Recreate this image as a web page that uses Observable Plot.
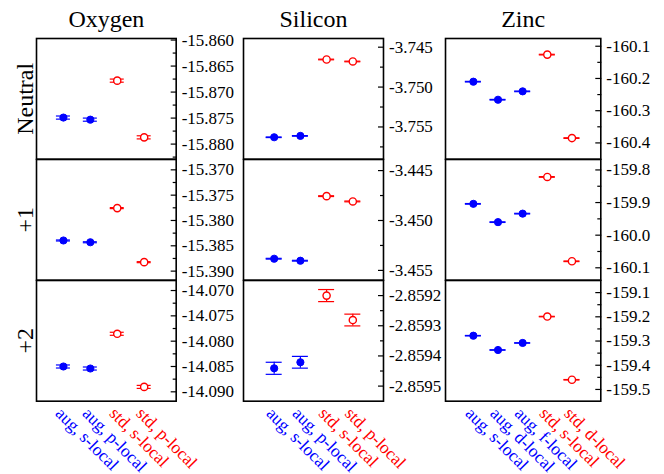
<!DOCTYPE html>
<html><head><meta charset="utf-8">
<script src="https://cdn.jsdelivr.net/npm/d3@7"></script>
<script src="https://cdn.jsdelivr.net/npm/@observablehq/plot@0.6"></script>
<style>
html,body{margin:0;padding:0;background:#fff;}
#chart{position:relative;width:664px;height:474px;overflow:hidden;background:#fff;}
#chart svg{position:absolute;}
</style></head>
<body><div id="chart"></div>
<script>
// ---------- data ----------
const elements = ["Oxygen", "Silicon", "Zinc"];
const charges = ["Neutral", "+1", "+2"];

const basisO  = ["aug, s-local", "aug, p-local", "std, s-local", "std, p-local"];
const basisSi = ["aug, s-local", "aug, p-local", "std, s-local", "std, p-local"];
const basisZn = ["aug, s-local", "aug, d-local", "aug, f-local", "std, s-local", "std, d-local"];

const oNeutral    = [-15.8749, -15.8753, -15.8678, -15.8787];
const oNeutralErr = [0.0003, 0.0003, 0.0003, 0.0003];
const oPlus1      = [-15.38395, -15.3843, -15.37756, -15.38823];
const oPlus1Err   = [0.0001, 0.0001, 0.0001, 0.0001];
const oPlus2      = [-14.0850, -14.0854, -14.07854, -14.08903];
const oPlus2Err   = [0.0003, 0.0003, 0.0003, 0.0003];

const siNeutral    = [-3.75629, -3.75612, -3.74654, -3.74679];
const siNeutralErr = [0.00004, 0.00004, 0.00004, 0.00004];
const siPlus1      = [-3.45383, -3.45403, -3.44756, -3.44809];
const siPlus1Err   = [0.00004, 0.00004, 0.00004, 0.00004];
const siPlus2      = [-2.859441, -2.859421, -2.8592, -2.859281];
const siPlus2Err   = [0.00002, 0.0000195, 0.00002, 0.0000195];

const znNeutral    = [-160.210, -160.266, -160.240, -160.126, -160.385];
const znNeutralErr = [0.001, 0.001, 0.001, 0.001, 0.001];
const znPlus1      = [-159.904, -159.960, -159.934, -159.8215, -160.080];
const znPlus1Err   = [0.001, 0.001, 0.001, 0.001, 0.001];
const znPlus2      = [-159.278, -159.337, -159.308, -159.199, -159.460];
const znPlus2Err   = [0.001, 0.001, 0.001, 0.001, 0.001];

// tick labels
const oNeutralTicks  = ["-15.860", "-15.865", "-15.870", "-15.875", "-15.880"];
const oPlus1Ticks    = ["-15.370", "-15.375", "-15.380", "-15.385", "-15.390"];
const oPlus2Ticks    = ["-14.070", "-14.075", "-14.080", "-14.085", "-14.090"];
const siNeutralTicks = ["-3.745", "-3.750", "-3.755"];
const siPlus1Ticks   = ["-3.445", "-3.450", "-3.455"];
const siPlus2Ticks   = ["-2.8592", "-2.8593", "-2.8594", "-2.8595"];
const znNeutralTicks = ["-160.1", "-160.2", "-160.3", "-160.4"];
const znPlus1Ticks   = ["-159.8", "-159.9", "-160.0", "-160.1"];
const znPlus2Ticks   = ["-159.1", "-159.2", "-159.3", "-159.4", "-159.5"];

// ---------- layout (not data) ----------
const FONT = "'Liberation Serif','Times New Roman',Times,serif";
const colLeft  = [36, 243.3, 445];
const colWidth = [139.7, 140, 155.3];
const colMR    = [67, 61.7, 64];
const xDomains = [[-1, 4.19], [-1.17, 4.17], [-1.13, 5.17]];
const capPx    = [7, 8, 8];
const rowTop   = [38.3, 159, 279.6];
const rowH     = 120.7;
const yDomains = [
  [[-15.8829, -15.8597], [-3.75904, -3.74391], [-160.4505, -160.076]],
  [[-15.39179, -15.36796], [-3.45598, -3.44389], [-160.138, -159.768]],
  [[-14.09185, -14.06802], [-2.85955, -2.85915], [-159.5485, -159.050]]
];
const BLUE = "#0000ff", RED = "#ff0000";

const basis = [basisO, basisSi, basisZn];
const values = [
  [oNeutral, siNeutral, znNeutral],
  [oPlus1, siPlus1, znPlus1],
  [oPlus2, siPlus2, znPlus2]
];
const errors = [
  [oNeutralErr, siNeutralErr, znNeutralErr],
  [oPlus1Err, siPlus1Err, znPlus1Err],
  [oPlus2Err, siPlus2Err, znPlus2Err]
];
const ticks = [
  [oNeutralTicks, siNeutralTicks, znNeutralTicks],
  [oPlus1Ticks, siPlus1Ticks, znPlus1Ticks],
  [oPlus2Ticks, siPlus2Ticks, znPlus2Ticks]
];

const chart = document.getElementById("chart");

for (let r = 0; r < 3; r++) {
  for (let c = 0; c < 3; c++) {
    const labels = basis[c];
    const data = labels.map((label, i) => ({
      i, label, v: values[r][c][i], e: errors[r][c][i],
      color: label.startsWith("aug") ? BLUE : RED
    }));
    const yd = yDomains[r][c];
    const lo = Math.min(...yd), hi = Math.max(...yd);
    const major = ticks[r][c].map(Number);
    const step = major[1] - major[0];
    const eps = Math.abs(step) * 0.05;
    const minor = [];
    for (let k = -1; k < major.length; k++) {
      const m = major[0] + (k + 0.5) * step;
      if (m > lo + eps && m < hi - eps) minor.push(m);
    }
    const pxPerUnit = colWidth[c] / (xDomains[c][1] - xDomains[c][0]);
    const cap = capPx[c] / pxPerUnit;

    const marks = [
      Plot.frame({stroke: "black", strokeWidth: 1.6}),
      Plot.axisY(major, {anchor: "right", tickSize: 6, dx: -6, fill: "none", stroke: "black", strokeWidth: 1.2, label: null}),
      Plot.axisY(minor, {anchor: "right", tickSize: 4, dx: -4, fill: "none", stroke: "black", strokeWidth: 1.2, label: null}),
      Plot.text(ticks[r][c], {y: d => +d, text: d => d, frameAnchor: "right", dx: 5.5, textAnchor: "start", lineAnchor: "middle", fontSize: 17, fill: "black"}),
      // error bars
      Plot.ruleX(data, {x: "i", y1: d => d.v - d.e, y2: d => d.v + d.e, stroke: "color", strokeWidth: 1.2}),
      Plot.ruleY(data, {y: d => d.v - d.e, x1: d => d.i - cap, x2: d => d.i + cap, stroke: "color", strokeWidth: 1.2}),
      Plot.ruleY(data, {y: d => d.v + d.e, x1: d => d.i - cap, x2: d => d.i + cap, stroke: "color", strokeWidth: 1.2}),
      // points
      Plot.dot(data.filter(d => d.color === BLUE), {x: "i", y: "v", r: 3.6, fill: BLUE, stroke: BLUE, strokeWidth: 1}),
      Plot.dot(data.filter(d => d.color === RED), {x: "i", y: "v", r: 3.6, fill: "white", stroke: RED, strokeWidth: 1.4})
    ];
    if (r === 0) {
      marks.push(Plot.text([elements[c]], {frameAnchor: "top", text: d => d, dy: -11.5, lineAnchor: "bottom", fontSize: 24, fill: "black"}));
    }
    if (c === 0) {
      marks.push(Plot.text([charges[r]], {frameAnchor: "left", text: d => d, rotate: -90, dx: -4, lineAnchor: "bottom", textAnchor: "middle", fontSize: 24, fill: "black"}));
    }
    if (r === 2) {
      marks.push(Plot.text(data, {x: "i", text: "label", frameAnchor: "bottom", rotate: 45, textAnchor: "start", lineAnchor: "top", dy: 4.5, fontSize: 17.5, fill: "color"}));
    }

    const svg = Plot.plot({
      width: colWidth[c] + colMR[c],
      height: rowH,
      marginTop: 0, marginBottom: 0, marginLeft: 0, marginRight: colMR[c],
      x: {domain: xDomains[c], axis: null},
      y: {domain: yd},
      style: {fontFamily: FONT, background: "none", overflow: "visible", maxWidth: "none"},
      marks
    });
    svg.style.left = colLeft[c] + "px";
    svg.style.top = rowTop[r] + "px";
    chart.appendChild(svg);
  }
}
</script>
</body></html>
